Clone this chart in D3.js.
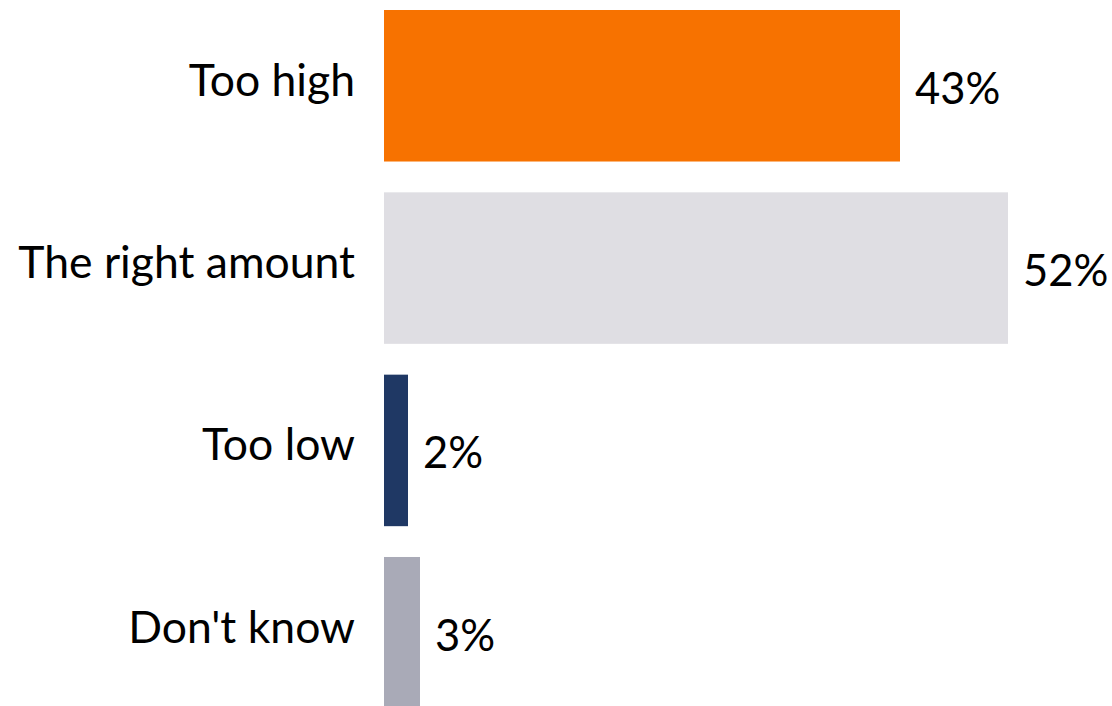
<!DOCTYPE html>
<html>
<head>
<meta charset="utf-8">
<script src="https://cdn.jsdelivr.net/npm/d3@7"></script>
<style>
  html, body { margin: 0; padding: 0; background: #ffffff; }
  svg { display: block; }
</style>
</head>
<body>
<div id="chart"></div>
<script>
// Survey answers, share of respondents (%)
const categories = ["Too high", "The right amount", "Too low", "Don't know"];
const values = [43, 52, 2, 3];
const colors = ["#F77200", "#DFDEE3", "#1F3864", "#A9AAB7"];

const W = 1112, H = 706;
const svg = d3.select("#chart").append("svg")
  .attr("width", W).attr("height", H);

const x = d3.scaleLinear().domain([0, 52]).range([384, 1008]);
const y = d3.scaleBand().domain(categories).range([10, 708.5])
  .paddingInner(0.169).paddingOuter(0);

const font = "Lato, 'Open Sans', sans-serif";

const rows = categories.map((c, i) => ({ cat: c, val: values[i], color: colors[i] }));

svg.selectAll("rect.bar").data(rows).join("rect")
  .attr("class", "bar")
  .attr("x", x(0))
  .attr("y", d => y(d.cat))
  .attr("width", d => x(d.val) - x(0))
  .attr("height", y.bandwidth())
  .attr("fill", d => d.color);

// category labels, right-aligned left of the bars
svg.selectAll("text.cat").data(rows).join("text")
  .attr("class", "cat")
  .attr("x", 355)
  .attr("y", d => y(d.cat) + y.bandwidth() / 2 + 10)
  .attr("text-anchor", "end")
  .attr("font-family", font)
  .attr("font-size", 44.5)
  .attr("fill", "#000")
  .text(d => d.cat);

// value labels at the bar ends
svg.selectAll("text.val").data(rows).join("text")
  .attr("class", "val")
  .attr("x", d => x(d.val) + 15)
  .attr("y", d => y(d.cat) + y.bandwidth() / 2 + 18)
  .attr("font-family", font)
  .attr("font-size", 43.5)
  .attr("fill", "#000")
  .text(d => d.val + "%");
</script>
</body>
</html>
